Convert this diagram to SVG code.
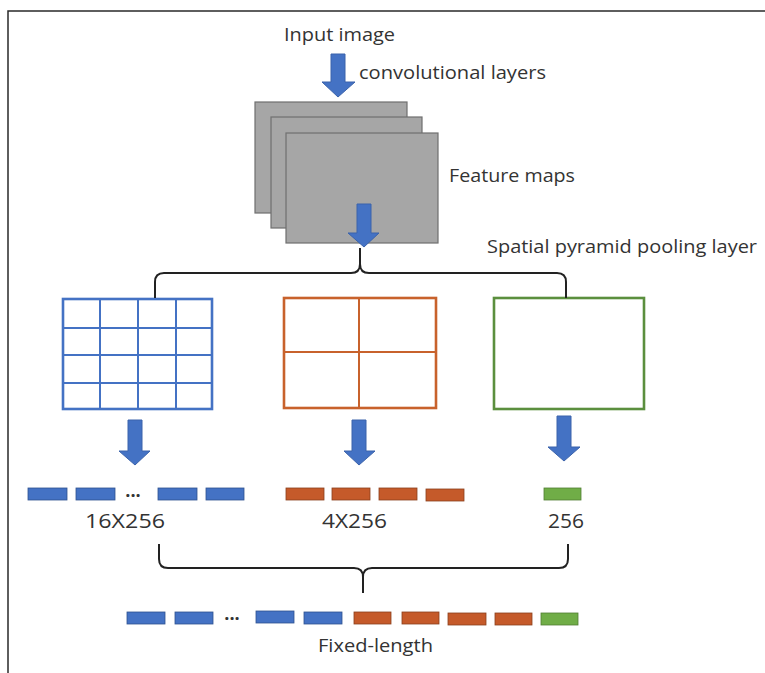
<svg xmlns="http://www.w3.org/2000/svg" width="765" height="673" viewBox="0 0 765 673">
  <style>
    .lbl { font-family: "Open Sans", "Noto Sans", "Liberation Sans", sans-serif; font-size: 19px; fill: #333; }
    .num { font-size: 20px; }
    .dots { font-size: 18px; font-weight: bold; }
    .arrow { fill: #4472C4; stroke: #3b63ab; stroke-width: 1; }
    .fmap { fill: #a6a6a6; stroke: #6f6f6f; stroke-width: 1.2; }
    .brace { fill: none; stroke: #222; stroke-width: 2; }
    .gridB { fill: #fff; stroke: #4472C4; stroke-width: 2.6; }
    .gridB-in { stroke: #4472C4; stroke-width: 2; }
    .gridO { fill: #fff; stroke: #C8622C; stroke-width: 2.6; }
    .gridO-in { stroke: #C8622C; stroke-width: 2; }
    .gridG { fill: #fff; stroke: #5B8F3E; stroke-width: 2.6; }
    .barB { fill: #4472C4; stroke: #2F528F; stroke-width: 0.8; }
    .barO { fill: #C55A2A; stroke: #8A3F1C; stroke-width: 0.8; }
    .barG { fill: #70AD47; stroke: #507E32; stroke-width: 0.8; }
  </style>

  <!-- outer frame (top and left edges) -->
  <path d="M8,673 V11 H765" fill="none" stroke="#2a2a2a" stroke-width="1.5"/>

  <!-- input -->
  <g id="input-image">
    <text class="lbl" x="284" y="41" textLength="111" lengthAdjust="spacingAndGlyphs">Input image</text>
  </g>

  <!-- feature map stack -->
  <g id="feature-maps">
    <rect class="fmap" x="255" y="102" width="152" height="111"/>
    <rect class="fmap" x="271" y="117" width="151" height="111"/>
    <rect class="fmap" x="286" y="133" width="152" height="110"/>
    <text class="lbl" x="449" y="182" textLength="126" lengthAdjust="spacingAndGlyphs">Feature maps</text>
  </g>

  <!-- pooling grids -->
  <g id="grid-4x4">
    <rect class="gridB" x="63" y="299" width="149" height="110"/>
    <path class="gridB-in" d="M100,299 V409 M138,299 V409 M176,299 V409 M63,328 H212 M63,355 H212 M63,383 H212"/>
  </g>
  <g id="grid-2x2">
    <rect class="gridO" x="284" y="298" width="152" height="110"/>
    <path class="gridO-in" d="M359,298 V408 M284,352 H436"/>
  </g>
  <g id="grid-1x1">
    <rect class="gridG" x="494" y="298" width="150" height="111"/>
  </g>

  <!-- pooled vectors -->
  <g id="vec-16x256">
    <rect class="barB" x="28" y="488" width="39" height="12"/>
    <rect class="barB" x="76" y="488" width="39" height="12"/>
    <text class="lbl dots" x="133" y="497" text-anchor="middle">...</text>
    <rect class="barB" x="158" y="488" width="39" height="12"/>
    <rect class="barB" x="206" y="488" width="38" height="12"/>
    <text class="lbl num" x="85" y="528" textLength="80" lengthAdjust="spacingAndGlyphs">16X256</text>
  </g>
  <g id="vec-4x256">
    <rect class="barO" x="286" y="488" width="38" height="12"/>
    <rect class="barO" x="332" y="488" width="38" height="12"/>
    <rect class="barO" x="379" y="488" width="38" height="12"/>
    <rect class="barO" x="426" y="489" width="38" height="12"/>
    <text class="lbl num" x="322" y="528" textLength="65" lengthAdjust="spacingAndGlyphs">4X256</text>
  </g>
  <g id="vec-256">
    <rect class="barG" x="544" y="488" width="37" height="12"/>
    <text class="lbl num" x="548" y="528" textLength="36" lengthAdjust="spacingAndGlyphs">256</text>
  </g>

  <!-- concatenated output -->
  <g id="fixed-length">
    <rect class="barB" x="127" y="612" width="38" height="12"/>
    <rect class="barB" x="175" y="612" width="38" height="12"/>
    <text class="lbl dots" x="232" y="620" text-anchor="middle">...</text>
    <rect class="barB" x="256" y="611" width="38" height="12"/>
    <rect class="barB" x="304" y="612" width="38" height="12"/>
    <rect class="barO" x="354" y="612" width="37" height="12"/>
    <rect class="barO" x="402" y="612" width="37" height="12"/>
    <rect class="barO" x="448" y="613" width="38" height="12"/>
    <rect class="barO" x="495" y="613" width="37" height="12"/>
    <rect class="barG" x="541" y="613" width="37" height="12"/>
    <text class="lbl" x="318" y="652" textLength="115" lengthAdjust="spacingAndGlyphs">Fixed-length</text>
  </g>

  <!-- connectors: block arrows and braces -->
  <g id="connectors">
    <path class="arrow" d="M331,54 H345 V82 H355 L338,97 L322,82 H331 Z"/>
    <path class="arrow" d="M357,204 H371 V233 H379 L364,247 L348,233 H357 Z"/>
    <path class="arrow" d="M128,420 H142 V451 H150 L135,465 L119,451 H128 Z"/>
    <path class="arrow" d="M352,420 H366 V451 H375 L359,465 L344,451 H352 Z"/>
    <path class="arrow" d="M557,416 H571 V447 H580 L564,461 L548,447 H557 Z"/>

    <path class="brace" d="M155,298 V282 Q155,273 164,273 H351 Q360,273 360,264 V248 M360,264 Q360,273 369,273 H557 Q566,273 566,282 V298"/>
    <path class="brace" d="M159,544 V559 Q159,568 168,568 H354 Q363,568 363,577 V593 M363,577 Q363,568 372,568 H559 Q568,568 568,559 V544"/>

    <text class="lbl" x="359" y="79" textLength="187" lengthAdjust="spacingAndGlyphs">convolutional layers</text>
    <text class="lbl" x="487" y="253" textLength="270" lengthAdjust="spacingAndGlyphs">Spatial pyramid pooling layer</text>
  </g>
</svg>
